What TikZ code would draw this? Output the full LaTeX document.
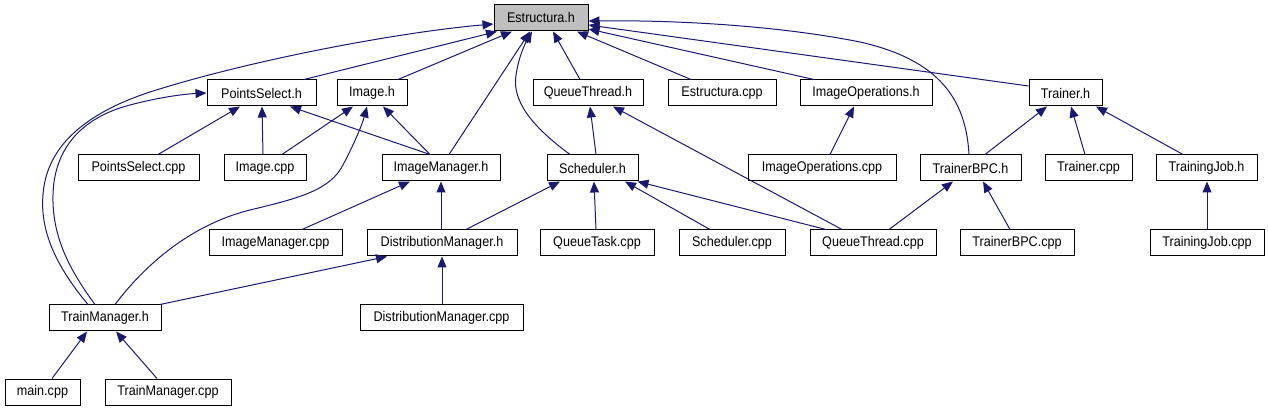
\documentclass[tikz,border=0pt]{standalone}
\usepackage{fontspec}
\newfontfamily\labfont[FakeStretch=0.9]{Liberation Sans}
\usetikzlibrary{arrows.meta}
\definecolor{edgeblue}{HTML}{191970}
\definecolor{rootgray}{HTML}{BFBFBF}
\tikzset{
  box/.style={draw=black, line width=1pt, fill=white, minimum height=26pt, inner sep=0pt,
    font=\labfont\fontsize{14}{16}\selectfont},
  rootbox/.style={box, fill=rootgray},
  edge/.style={draw=edgeblue, line width=1pt, -{Triangle[length=11pt,width=9pt]}}
}
\begin{document}
\begin{tikzpicture}[x=1pt,y=-1pt]
\useasboundingbox (0,0) rectangle (1268,411);
% row 1
\node[rootbox, minimum width=94pt] (Est) at (541,18) {Estructura.h};
% row 2
\node[box, minimum width=109pt] (PSh) at (261.5,93) {PointsSelect.h};
\node[box, minimum width=70pt] (Imh) at (372,93) {Image.h};
\node[box, minimum width=110pt] (QTh) at (588,93) {QueueThread.h};
\node[box, minimum width=108pt] (Ecpp) at (722,93) {Estructura.cpp};
\node[box, minimum width=132pt] (IOh) at (866,93) {ImageOperations.h};
\node[box, minimum width=73pt] (Trh) at (1065.5,93) {Trainer.h};
% row 3
\node[box, minimum width=121pt] (PScpp) at (138.5,168) {PointsSelect.cpp};
\node[box, minimum width=82pt] (Imcpp) at (265,168) {Image.cpp};
\node[box, minimum width=118pt] (IMh) at (441,168) {ImageManager.h};
\node[box, minimum width=91pt] (Sch) at (592.5,168) {Scheduler.h};
\node[box, minimum width=148pt] (IOcpp) at (822,168) {ImageOperations.cpp};
\node[box, minimum width=101pt] (TBh) at (970.5,168) {TrainerBPC.h};
\node[box, minimum width=87pt] (Trcpp) at (1088.5,168) {Trainer.cpp};
\node[box, minimum width=101pt] (TJh) at (1206.5,168) {TrainingJob.h};
% row 4
\node[box, minimum width=133pt] (IMcpp) at (275.5,243) {ImageManager.cpp};
\node[box, minimum width=150pt] (DMh) at (442,243) {DistributionManager.h};
\node[box, minimum width=114pt] (QTcpp) at (597,243) {QueueTask.cpp};
\node[box, minimum width=106pt] (Sccpp) at (732,243) {Scheduler.cpp};
\node[box, minimum width=126pt] (QThcpp) at (873,243) {QueueThread.cpp};
\node[box, minimum width=114pt] (TBcpp) at (1017,243) {TrainerBPC.cpp};
\node[box, minimum width=114pt] (TJcpp) at (1207,243) {TrainingJob.cpp};
% row 5
\node[box, minimum width=112pt] (TMh) at (105,318) {TrainManager.h};
\node[box, minimum width=163pt] (DMcpp) at (441.5,318) {DistributionManager.cpp};
% row 6
\node[box, minimum width=75pt] (main) at (42.5,392) {main.cpp};
\node[box, minimum width=126pt] (TMcpp) at (168,392) {TrainManager.cpp};

% edges to Estructura.h
\draw[edge] ([xshift=42.5pt]PSh.north) -- ([xshift=-44pt]Est.south);
\draw[edge] ([xshift=26pt]Imh.north) -- ([xshift=-29pt]Est.south);
\draw[edge] ([xshift=8pt]IMh.north) -- ([xshift=-11pt]Est.south);
\draw[edge] ([xshift=-22.5pt]Sch.north) .. controls (530,125) and (512,100) .. (516,75) .. controls (519,55) and (526,42) .. ([xshift=-9pt]Est.south);
\draw[edge] ([xshift=-8pt]QTh.north) -- ([xshift=12pt]Est.south);
\draw[edge] ([xshift=-31pt]Ecpp.north) -- ([xshift=36pt]Est.south);
\draw[edge] ([xshift=-52pt]IOh.north) -- ([yshift=-11pt]Est.east);
\draw[edge] ([yshift=7pt]Trh.west) -- ([yshift=-7pt]Est.east);
\draw[edge] ([xshift=-1.5pt]TBh.north) .. controls (966,100) and (940,60) .. (860,42) .. controls (780,26) and (680,20) .. ([yshift=-3pt]Est.east);
\draw[edge] ([xshift=-17pt]TMh.north) .. controls (55,265) and (40,230) .. (43,195) .. controls (46,150) and (80,115) .. (150,92) .. controls (250,60) and (400,32) .. ([yshift=-6pt]Est.west);

% edges to PointsSelect.h
\draw[edge] ([xshift=-10pt]TMh.north) .. controls (68,268) and (52,235) .. (53,195) .. controls (54,150) and (80,118) .. (130,105) .. controls (160,97) and (185,94) .. (PSh.west);
\draw[edge] ([xshift=19.5pt]PScpp.north) -- ([xshift=-21.5pt]PSh.south);
\draw[edge] ([xshift=-2pt]Imcpp.north) -- ([xshift=0.5pt]PSh.south);
\draw[edge] ([xshift=-11pt]IMh.north) -- ([xshift=28.5pt]PSh.south);

% edges to Image.h
\draw[edge] ([xshift=17pt]Imcpp.north) -- ([xshift=-19pt]Imh.south);
\draw[edge] ([xshift=-11pt]IMh.north) -- ([xshift=11pt]Imh.south);
\draw[edge] ([xshift=10pt]TMh.north) .. controls (145,265) and (190,225) .. (250,210) .. controls (300,198) and (330,190) .. (343,165) .. controls (355,142) and (362,125) .. ([xshift=-5pt]Imh.south);

% QueueThread.h
\draw[edge] ([xshift=3.5pt]Sch.north) -- ([xshift=2pt]QTh.south);
\draw[edge] ([xshift=-31pt]QThcpp.north) -- ([xshift=25pt]QTh.south);

% ImageOperations.h
\draw[edge] ([xshift=8pt]IOcpp.north) -- ([xshift=-12pt]IOh.south);

% Trainer.h
\draw[edge] ([xshift=14.5pt]TBh.north) -- ([xshift=-18.5pt]Trh.south);
\draw[edge] ([xshift=-3.5pt]Trcpp.north) -- ([xshift=5.5pt]Trh.south);
\draw[edge] ([xshift=-23.5pt]TJh.north) -- ([xshift=30.5pt]Trh.south);

% ImageManager.h
\draw[edge] ([xshift=26.5pt]IMcpp.north) -- ([xshift=-31pt]IMh.south);
\draw[edge] ([xshift=-1pt]DMh.north) -- (IMh.south);

% Scheduler.h
\draw[edge] ([xshift=24pt]DMh.north) -- ([xshift=-32.5pt]Sch.south);
\draw[edge] ([xshift=-1pt]QTcpp.north) -- ([xshift=1.5pt]Sch.south);
\draw[edge] ([xshift=-22pt]Sccpp.north) -- ([xshift=32.5pt]Sch.south);
\draw[edge] ([xshift=-47pt]QThcpp.north) -- ([xshift=-1pt]Sch.south east);

% TrainerBPC.h
\draw[edge] ([xshift=16pt]QThcpp.north) -- ([xshift=-17.5pt]TBh.south);
\draw[edge] ([xshift=-7pt]TBcpp.north) -- ([xshift=12.5pt]TBh.south);

% TrainingJob.h
\draw[edge] (TJcpp.north) -- ([xshift=0.5pt]TJh.south);

% DistributionManager.h
\draw[edge] ([xshift=55pt]TMh.north) -- ([xshift=-55pt]DMh.south);
\draw[edge] ([xshift=0.5pt]DMcpp.north) -- (DMh.south);

% TrainManager.h
\draw[edge] ([xshift=9.5pt]main.north) -- ([xshift=-18pt]TMh.south);
\draw[edge] ([xshift=-11pt]TMcpp.north) -- ([xshift=11pt]TMh.south);
\end{tikzpicture}
\end{document}
